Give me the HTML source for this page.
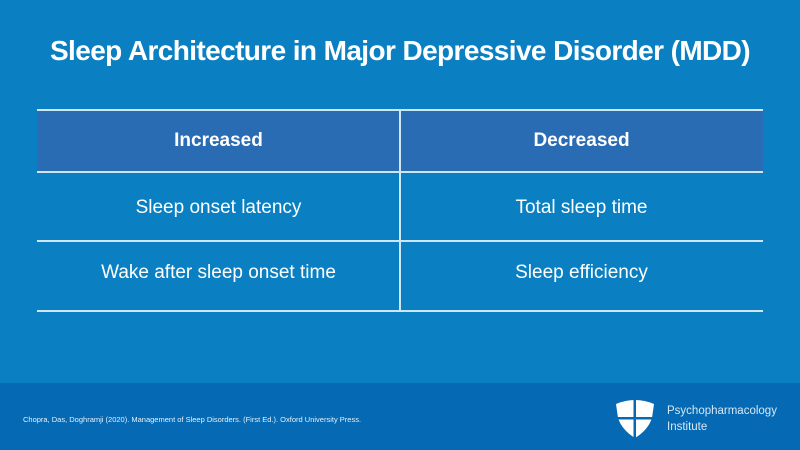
<!DOCTYPE html>
<html><head><meta charset="utf-8"><style>
*{margin:0;padding:0;box-sizing:border-box}
body{width:800px;height:450px;overflow:hidden;background:#0a80c2;font-family:"Liberation Sans",sans-serif;position:relative;color:#fff}
.title{position:absolute;left:0;width:800px;top:35px;text-align:center;font-size:28px;font-weight:bold;letter-spacing:-0.6px}
.hdr{position:absolute;left:37px;top:110px;width:726px;height:62px;background:#2a6cb4}
.hl{position:absolute;left:37px;width:726px;height:1.5px;background:#cfe6f5}
.vl{position:absolute;left:399px;top:110px;width:1.5px;height:201px;background:#cfe6f5}
.cell{position:absolute;width:363px;text-align:center;font-size:19px}
.b{font-weight:bold;font-size:19px}
.footer{position:absolute;left:0;top:383px;width:800px;height:67px;background:#0569b3}
.cite{position:absolute;left:23px;top:415px;font-size:7.5px;color:#e6f1fa}
.logo-t{position:absolute;left:667px;top:403px;font-size:11.5px;line-height:16px;color:#d7e8f6}
</style></head><body>
<div class="title">Sleep Architecture in Major Depressive Disorder (MDD)</div>
<div class="hdr"></div>
<div class="hl" style="top:109px"></div>
<div class="hl" style="top:171px"></div>
<div class="hl" style="top:240px"></div>
<div class="hl" style="top:310px"></div>
<div class="vl"></div>
<div class="cell b" style="left:37px;top:130px">Increased</div>
<div class="cell b" style="left:400px;top:130px">Decreased</div>
<div class="cell" style="left:37px;top:197px">Sleep onset latency</div>
<div class="cell" style="left:400px;top:197px">Total sleep time</div>
<div class="cell" style="left:37px;top:262px">Wake after sleep onset time</div>
<div class="cell" style="left:400px;top:262px">Sleep efficiency</div>
<div class="footer"></div>
<div class="cite">Chopra, Das, Doghramji (2020). Management of Sleep Disorders. (First Ed.). Oxford University Press.</div>
<svg style="position:absolute;left:614px;top:398px" width="42" height="40" viewBox="0 0 42 40">
<path d="M2 6 Q21 -2 40 6 L38 20 Q34 32 21 40 Q8 32 4 20 Z" fill="#fff"/>
<rect x="19.5" y="2" width="2.5" height="38" fill="#0569b3"/>
<rect x="2" y="19" width="38" height="2.5" fill="#0569b3"/>
</svg>
<div class="logo-t">Psychopharmacology<br>Institute</div>
</body></html>
